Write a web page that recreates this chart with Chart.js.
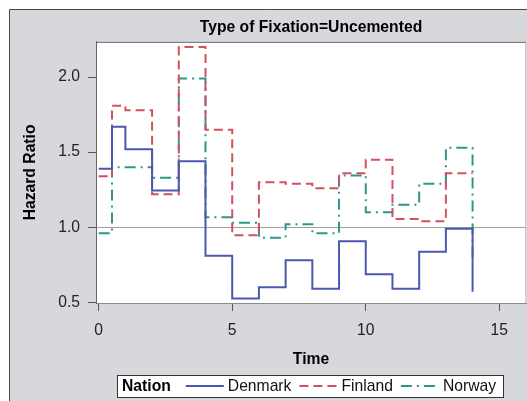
<!DOCTYPE html>
<html>
<head>
<meta charset="utf-8">
<script src="https://cdn.jsdelivr.net/npm/chart.js@4"></script>
<style>
  html, body { margin: 0; padding: 0; background: #fff; overflow: hidden; }
</style>
</head>
<body>
<canvas id="hazardChart" width="527" height="401"></canvas>
<script>
// step times and hazard ratio per nation
const times   = [0, 0.5, 1, 2, 3, 4, 5, 6, 7, 8, 9, 10, 11, 12, 13, 14];
const denmark = [1.39, 1.67, 1.52, 1.245, 1.44, 0.81, 0.525, 0.60, 0.78, 0.59, 0.907, 0.687, 0.59, 0.836, 0.99, 0.57];
const finland = [1.34, 1.81, 1.78, 1.22, 2.20, 1.65, 0.947, 1.30, 1.29, 1.26, 1.36, 1.45, 1.055, 1.04, 1.36, 1.36];
const norway  = [0.96, 1.40, 1.40, 1.33, 1.99, 1.066, 1.03, 0.93, 1.02, 0.96, 1.345, 1.10, 1.15, 1.29, 1.53, 0.80];
const xTicks = [0, 5, 10, 15];
const yTicks = [0.5, 1.0, 1.5, 2.0];

const FONT = "'Liberation Sans', Arial, sans-serif";
const FS = 15.7;
const pts = vals => vals.map((v, i) => ({ x: times[i], y: v }));

// frame, plot box and the legend row
const framePlugin = {
    id: 'frame',
    beforeDraw(chart) {
        const { ctx, chartArea: a } = chart;
        ctx.save();
        ctx.fillStyle = '#fff';
        ctx.fillRect(0, 0, chart.width, chart.height);
        ctx.fillStyle = '#d7d8dc';
        ctx.fillRect(9, 9, chart.width, chart.height);
        ctx.strokeStyle = '#4a4a4a';
        ctx.lineWidth = 1;
        ctx.beginPath();
        ctx.moveTo(9.5, chart.height);
        ctx.lineTo(9.5, 9.5);
        ctx.lineTo(chart.width, 9.5);
        ctx.stroke();
        ctx.fillStyle = '#fff';
        ctx.fillRect(a.left, a.top, a.right - a.left, a.bottom - a.top);
        ctx.strokeStyle = '#cfcfcf';
        ctx.beginPath();
        ctx.moveTo(a.right - 0.5, a.top);
        ctx.lineTo(a.right - 0.5, a.bottom);
        ctx.stroke();
        ctx.strokeStyle = '#666';
        ctx.beginPath();
        ctx.moveTo(a.left + 0.5, a.bottom);
        ctx.lineTo(a.left + 0.5, a.top + 0.5);
        ctx.lineTo(a.right, a.top + 0.5);
        ctx.stroke();
        ctx.restore();
    },
    afterDraw(chart) {
        const ctx = chart.ctx;
        const top = 375, h = 22, left = 117, right = 503;
        const cy = top + h / 2;
        ctx.save();
        ctx.fillStyle = '#fff';
        ctx.fillRect(left, top, right - left, h);
        ctx.strokeStyle = '#333';
        ctx.lineWidth = 1;
        ctx.strokeRect(left + 0.5, top + 0.5, right - left, h);
        ctx.textBaseline = 'middle';
        ctx.fillStyle = '#000';
        ctx.font = 'bold ' + FS + 'px ' + FONT;
        ctx.fillText('Nation', 122, cy + 1);
        let x = 122 + ctx.measureText('Nation').width + 15;
        ctx.font = FS + 'px ' + FONT;
        chart.data.datasets.forEach(ds => {
            ctx.strokeStyle = ds.borderColor;
            ctx.lineWidth = 2;
            ctx.setLineDash(ds.borderDash || []);
            ctx.beginPath();
            ctx.moveTo(x, cy);
            ctx.lineTo(x + 38, cy);
            ctx.stroke();
            ctx.setLineDash([]);
            x += 42;
            ctx.fillStyle = '#111';
            ctx.fillText(ds.label, x, cy + 1);
            x += ctx.measureText(ds.label).width + 8;
        });
        ctx.restore();
    }
};

new Chart(document.getElementById('hazardChart'), {
    type: 'line',
    data: {
        datasets: [
            { label: 'Denmark', data: pts(denmark), borderColor: '#4c58b0', borderWidth: 2 },
            { label: 'Finland', data: pts(finland), borderColor: '#d4505f', borderWidth: 2, borderDash: [9, 5] },
            { label: 'Norway',  data: pts(norway),  borderColor: '#2c968a', borderWidth: 2, borderDash: [11, 5, 2, 5] }
        ]
    },
    options: {
        responsive: false,
        animation: false,
        elements: { point: { radius: 0 }, line: { stepped: 'before', tension: 0 } },
        layout: { padding: { left: 10, top: 10, right: 1, bottom: 31 } },
        plugins: {
            legend: { display: false },
            tooltip: { enabled: false },
            title: {
                display: true,
                fullSize: false,
                text: 'Type of Fixation=Uncemented',
                color: '#000',
                font: { family: FONT, size: FS, weight: 'bold' },
                padding: { top: 8, bottom: 5 }
            }
        },
        scales: {
            x: {
                type: 'linear',
                min: -0.1,
                max: 16.0,
                afterBuildTicks: axis => { axis.ticks = xTicks.map(v => ({ value: v })); },
                afterFit: axis => { axis.height = 67; },
                grid: { drawOnChartArea: false, drawTicks: true, tickLength: 8, tickColor: '#555' },
                border: { display: true, color: '#8a8a8a' },
                ticks: { color: '#222', padding: 10, maxRotation: 0, font: { family: FONT, size: FS } },
                title: { display: true, text: 'Time', color: '#000', padding: { top: 0, bottom: 1 },
                         font: { family: FONT, size: FS, weight: 'bold' } }
            },
            y: {
                min: 0.495,
                max: 2.235,
                afterBuildTicks: axis => { axis.ticks = yTicks.map(v => ({ value: v })); },
                afterFit: axis => { axis.width = 86; },
                grid: {
                    color: c => (c.tick && c.tick.value === 1) ? '#a0a0a0' : 'rgba(0,0,0,0)',
                    lineWidth: 1,
                    drawTicks: true, tickLength: 8, tickColor: '#555'
                },
                border: { display: true, color: '#666' },
                ticks: { color: '#222', padding: 8, font: { family: FONT, size: FS },
                         callback: v => v.toFixed(1) },
                title: { display: true, text: 'Hazard Ratio', color: '#000', padding: { top: 11, bottom: 0 },
                         font: { family: FONT, size: FS, weight: 'bold' } }
            }
        }
    },
    plugins: [framePlugin]
});
</script>
</body>
</html>
